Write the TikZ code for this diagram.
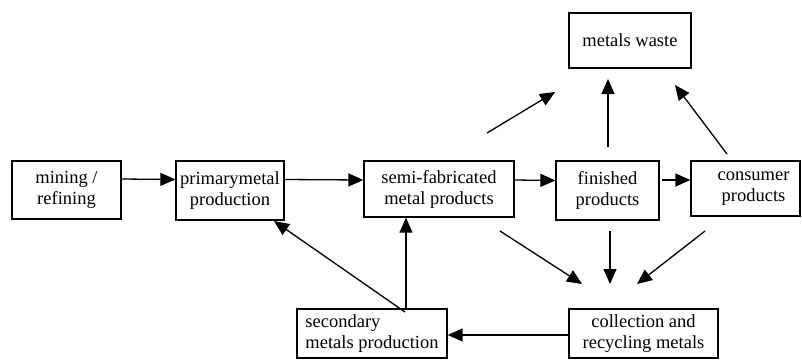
\documentclass[tikz,border=0pt]{standalone}
\usepackage{fontspec}
\setmainfont{Liberation Serif}
\usetikzlibrary{arrows.meta}
\begin{document}
\begin{tikzpicture}[x=1pt,y=-1pt,
  box/.style={draw,line width=1.3pt,inner sep=0pt,align=center,font=\fontsize{18.5}{21}\selectfont},
  arr/.style={line width=1.3pt,-{Triangle[length=15pt,width=13pt]}}]
\useasboundingbox (0,0) rectangle (802,360);
\node[box,minimum width=109pt,minimum height=58pt] (mine) at (66.5,190) {mining /\\refining};
\node[box,minimum width=108pt,minimum height=59pt] (prim) at (230,190.5) {primarymetal\\production};
\node[box,minimum width=150pt,minimum height=56pt] (semi) at (439,189) {semi-fabricated\\metal products};
\node[box,minimum width=103pt,minimum height=59pt] (fin) at (607.5,190.5) {finished\\products};
\node[box,minimum width=109pt,minimum height=55pt] (cons) at (745.5,188.5) {\hspace*{16pt}consumer\\\hspace*{16pt}products};
\node[box,minimum width=122pt,minimum height=55pt] (waste) at (630,40.5) {metals waste};
\node[box,minimum width=150pt,minimum height=49pt,align=left] (sec) at (372,333.5) {secondary\\metals production};
\node[box,minimum width=149pt,minimum height=49pt] (coll) at (643.5,333.5) {collection and\\recycling metals};
% main chain
\draw[arr] ([yshift=11pt]mine.east) -- ([yshift=11pt]prim.west);
\draw[arr] ([yshift=11pt]prim.east) -- ([yshift=9pt]semi.west);
\draw[arr] ([yshift=9pt]semi.east) -- ([yshift=10pt]fin.west);
\coordinate (f1) at (662,180);
\draw[arr] (f1) -- (f1 -| cons.west);
% to waste
\coordinate (w1) at (487,133);
\coordinate (w2) at (555,92);
\draw[arr] (w1) -- (w2);
\coordinate (w3) at (608,147);
\draw[arr] (w3) -- (608,79);
\coordinate (w4) at (727,154);
\coordinate (w5) at (675,85);
\draw[arr] (w4) -- (w5);
% to collection
\coordinate (c1) at (500,231);
\coordinate (c2) at (582,284);
\draw[arr] (c1) -- (c2);
\coordinate (c3) at (610,231);
\coordinate (c4) at (610,284);
\draw[arr] (c3) -- (c4);
\coordinate (c5) at (705,231);
\coordinate (c6) at (637,284);
\draw[arr] (c5) -- (c6);
% collection to secondary
\draw[arr] (coll.west |- 0,335) -- (sec.east |- 0,335);
% secondary upward
\coordinate (s1) at (406,309);
\draw[arr] (s1) -- (s1 |- semi.south);
\coordinate (s2) at (405,312);
\coordinate (p1) at (274,221);
\draw[arr] (s2) -- (p1);
\end{tikzpicture}
\end{document}
